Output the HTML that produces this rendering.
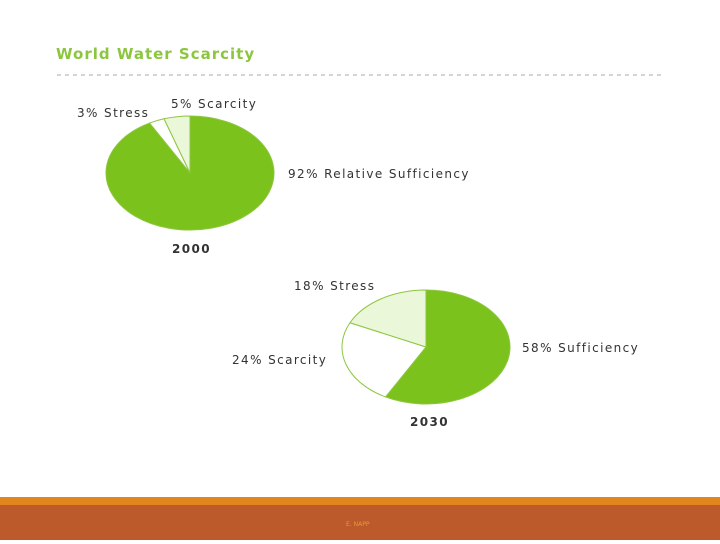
<!DOCTYPE html>
<html><head><meta charset="utf-8">
<style>
html,body{margin:0;padding:0;background:#fff;}
body{width:720px;height:540px;position:relative;overflow:hidden;font-family:"DejaVu Sans","Liberation Sans",sans-serif;}
</style></head>
<body>
<svg id="chart" width="720" height="540" viewBox="0 0 720 540" xmlns="http://www.w3.org/2000/svg">
  <text x="56" y="59" font-size="15" font-weight="bold" letter-spacing="1" fill="#8cc63f" font-family="DejaVu Sans, sans-serif">World Water Scarcity</text>
  <line x1="57" y1="75" x2="662" y2="75" stroke="#a9ab9e" stroke-width="1" stroke-dasharray="4,4"/>
  <g id="pies"></g>
  <rect x="0" y="497" width="720" height="8" fill="#e0861c"/>
  <rect x="0" y="505" width="720" height="35" fill="#bc5a2c"/>
  <text x="346" y="526" font-size="6" fill="#e69a3a" font-family="DejaVu Sans, sans-serif">E. NAPP</text>
</svg>
<script>
const pie2000Labels = ["Relative Sufficiency", "Stress", "Scarcity"];
const pie2000Values = [92, 3, 5];
const pie2030Labels = ["Sufficiency", "Scarcity", "Stress"];
const pie2030Values = [58, 24, 18];
const pieYears = ["2000", "2030"];

const NS = "http://www.w3.org/2000/svg";
const g = document.getElementById("pies");
function fillFor(label, year){
  if (label.indexOf("Sufficiency") >= 0) return "#7cc21c";
  if (year === "2000") return label === "Stress" ? "#ffffff" : "#eaf7d8";
  return label === "Scarcity" ? "#ffffff" : "#eaf7d8";
}
function drawPie(cx, cy, rx, ry, labels, values, year, labelPos, yearPos){
  const total = values.reduce((a,b)=>a+b,0);
  let acc = 0;
  values.forEach((v,i)=>{
    const a0 = acc/total*2*Math.PI; acc += v;
    const a1 = acc/total*2*Math.PI;
    const x0 = cx + rx*Math.sin(a0), y0 = cy - ry*Math.cos(a0);
    const x1 = cx + rx*Math.sin(a1), y1 = cy - ry*Math.cos(a1);
    const large = (a1-a0) > Math.PI ? 1 : 0;
    const p = document.createElementNS(NS,"path");
    p.setAttribute("d",`M${cx},${cy} L${x0},${y0} A${rx},${ry} 0 ${large} 1 ${x1},${y1} Z`);
    p.setAttribute("fill", fillFor(labels[i], year));
    p.setAttribute("stroke", "#8cc63f");
    p.setAttribute("stroke-width", "1");
    
    
    g.appendChild(p);
    const t = document.createElementNS(NS,"text");
    t.setAttribute("x", labelPos[i][0]); t.setAttribute("y", labelPos[i][1]);
    t.setAttribute("font-size","12"); t.setAttribute("letter-spacing","1.4"); t.setAttribute("fill","#333");
    t.textContent = values[i] + "%  " + labels[i];
    
    
    g.appendChild(t);
  });
  const y = document.createElementNS(NS,"text");
  y.setAttribute("x", yearPos[0]); y.setAttribute("y", yearPos[1]);
  y.setAttribute("font-size","12"); y.setAttribute("font-weight","bold"); y.setAttribute("letter-spacing","1.4"); y.setAttribute("fill","#333");
  y.textContent = year;
  
  
  g.appendChild(y);
}
drawPie(190, 173, 84, 57, pie2000Labels, pie2000Values, pieYears[0],
  [[288,178],[77,117],[171,108]], [172,253]);
drawPie(426, 347, 84, 57, pie2030Labels, pie2030Values, pieYears[1],
  [[522,352],[232,364],[294,290]], [410,426]);
</script>
</body></html>
